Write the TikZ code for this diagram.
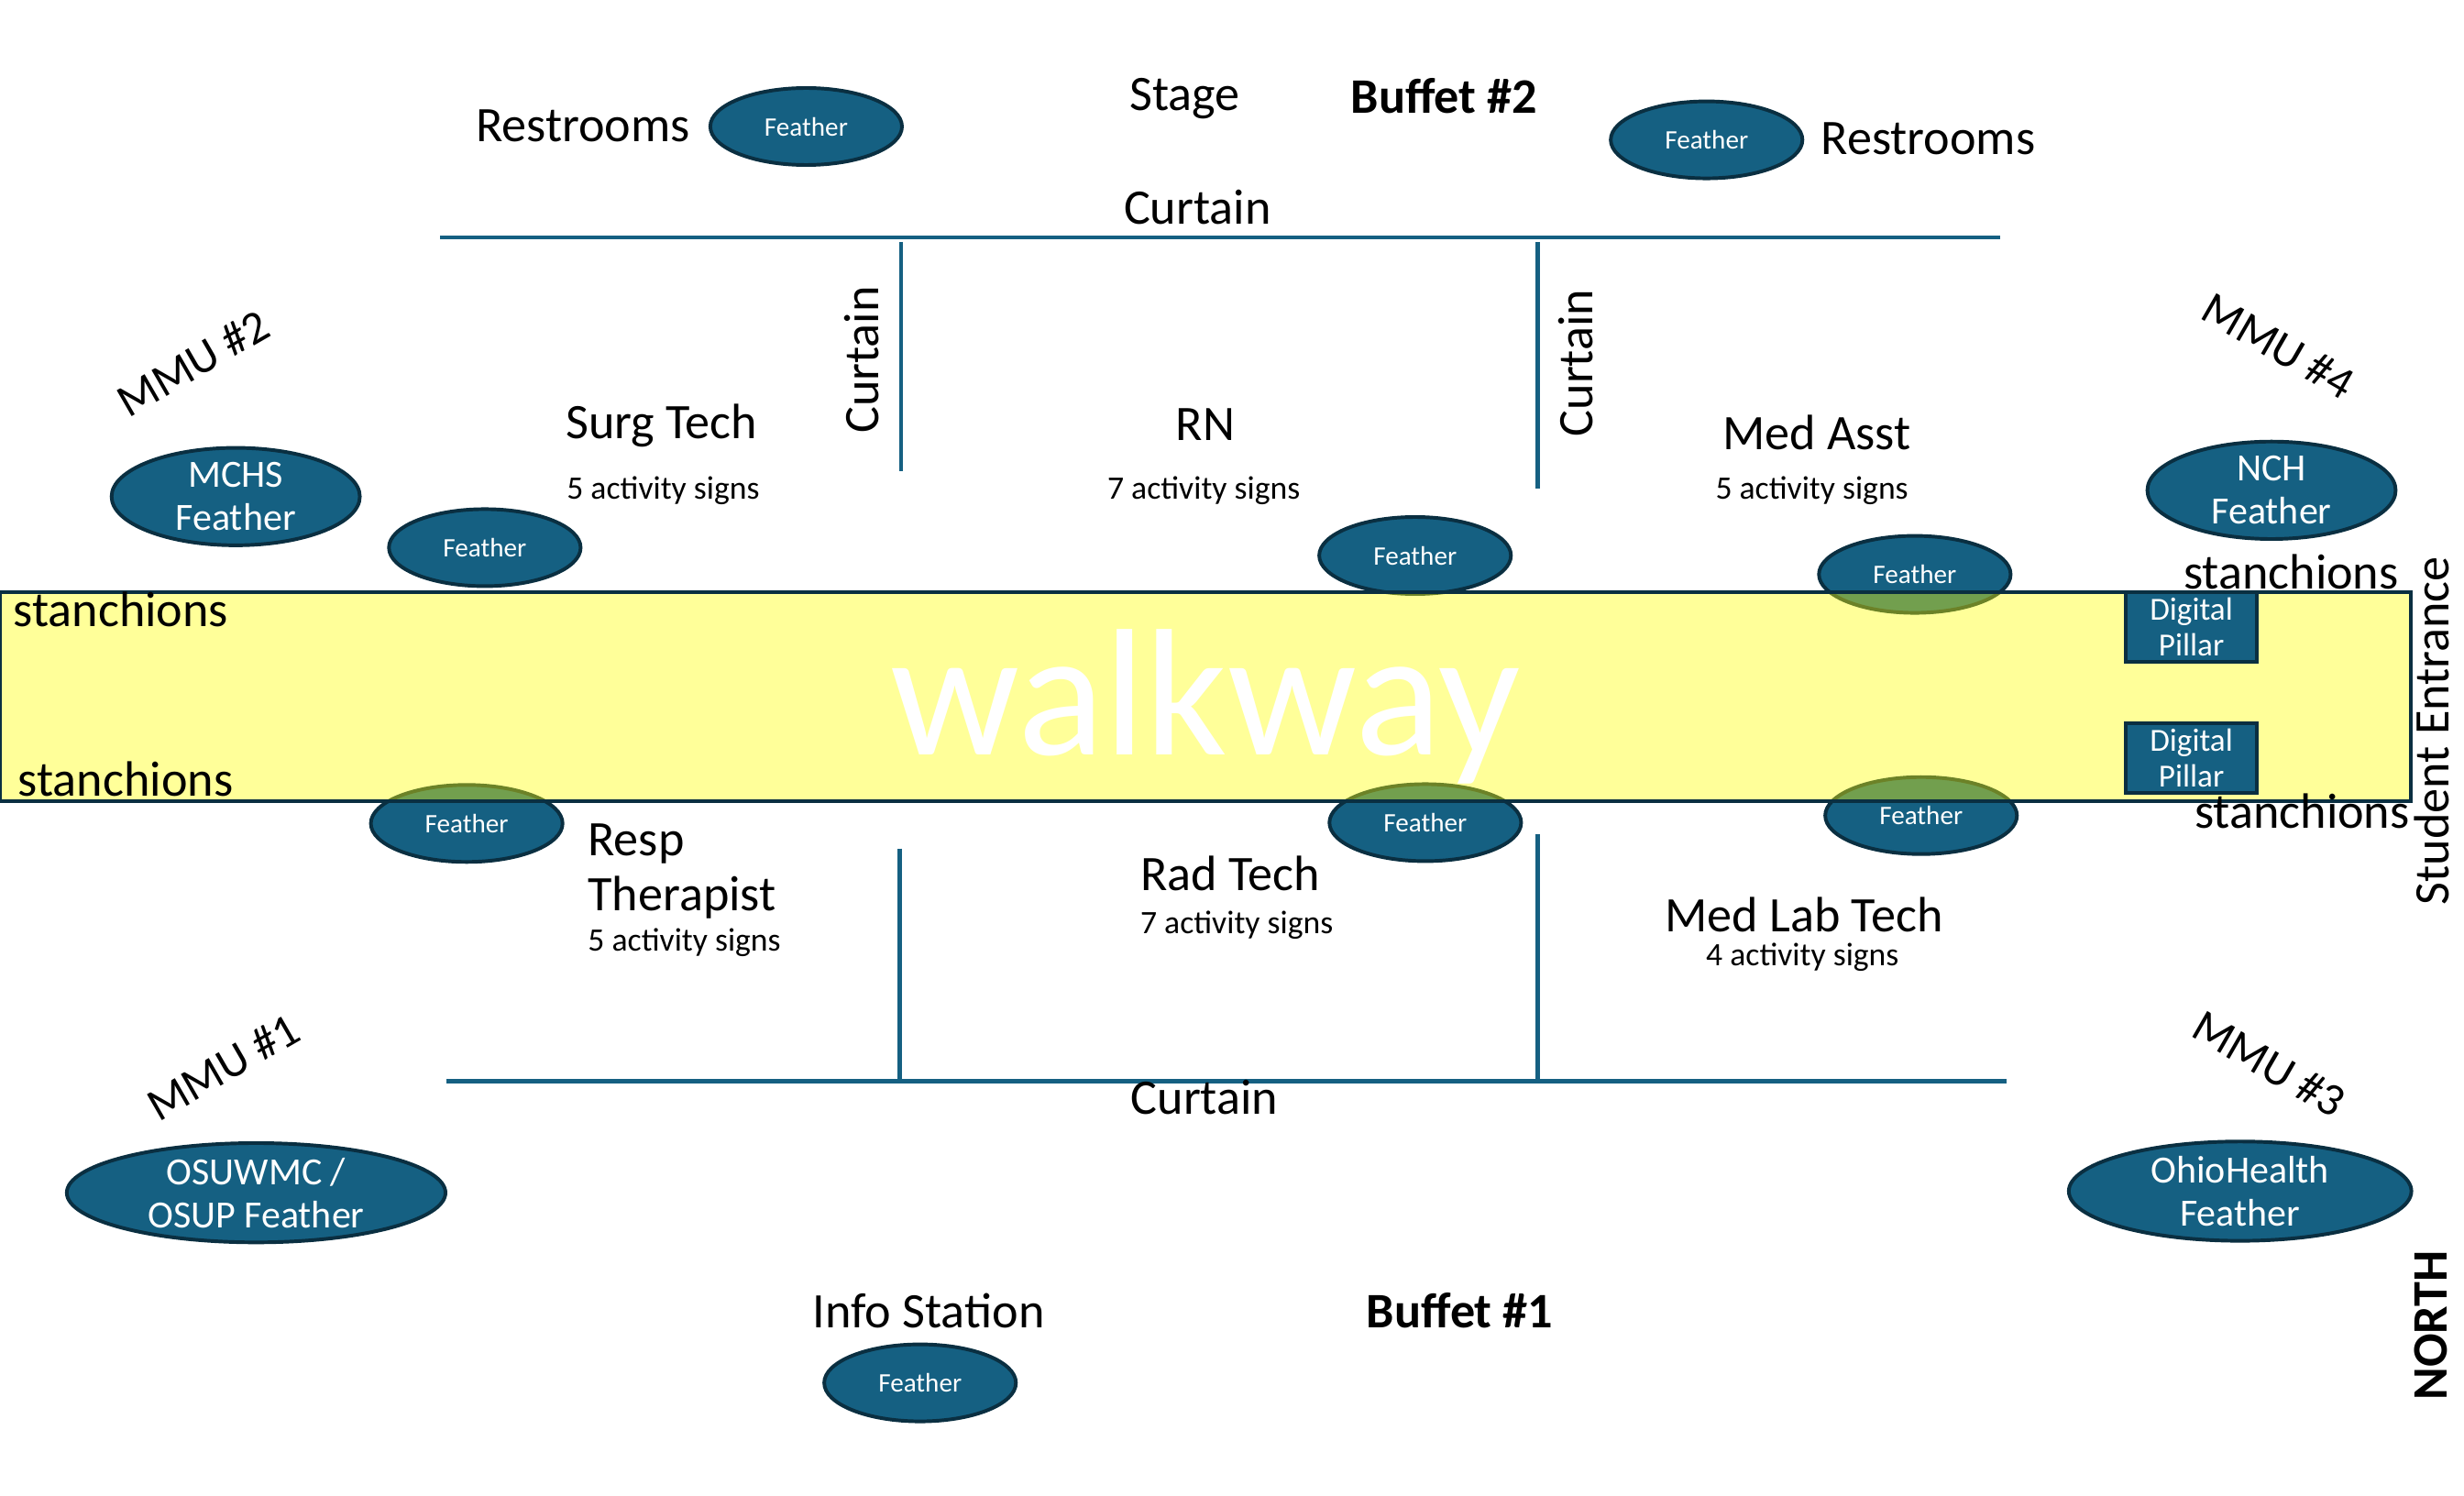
\documentclass[tikz,border=0pt]{standalone}
\usepackage{fontspec}
\usetikzlibrary{shapes.geometric}
\setmainfont{Carlito}
\newcommand{\fs}[1]{\fontsize{#1}{#1}\selectfont}
\definecolor{wallblue}{HTML}{156082}
\definecolor{edge}{HTML}{0A2F41}
\definecolor{walkyellow}{HTML}{FFFF00}
\tikzset{
  feather/.style={ellipse,draw=edge,line width=2.3pt,fill=wallblue,text=white,inner sep=0pt,align=center},
  smallf/.style={feather,minimum width=122pt,minimum height=49pt,font=\fs{17}},
  bigf/.style={feather,minimum height=62pt,font=\fs{24.5}},
  pillar/.style={rectangle,draw=edge,line width=2.3pt,fill=wallblue,text=white,align=center,minimum width=83pt,minimum height=44pt,inner sep=0pt,font=\fs{20.5}},
  lab/.style={inner sep=0pt,text=black,font=\fs{31.6}},
  mmu/.style={inner sep=0pt,text=black,font=\fs{29.6}},
  sub/.style={inner sep=0pt,text=black,font=\fs{20.8}},
  wall/.style={draw=wallblue,line width=2.6pt}
}
\begin{document}
\begin{tikzpicture}[x=1pt,y=-1pt]
\useasboundingbox (0,0) rectangle (1568,952);
% feathers under the walkway
\node[smallf] (f1) at (513,80.5) {Feather};
\node[smallf] (f2) at (1086,89) {Feather};
\node[smallf] (f3) at (308.5,348.5) {Feather};
\node[smallf] (f4) at (900.5,353.5) {Feather};
\node[smallf] (f5) at (1218.5,365.5) {Feather};
\node[smallf] (f6) at (297,524) {Feather};
\node[smallf] (f7) at (907,523.5) {Feather};
\node[smallf] (f8) at (1222.5,519) {Feather};
\node[smallf] (f9) at (585.5,880) {Feather};
\node[bigf,minimum width=158pt] (mchs) at (150,316) {MCHS\\[3pt]Feather};
\node[bigf,minimum width=158pt] (nch) at (1445.5,312) {NCH\\[3pt]Feather};
\node[bigf,minimum width=241pt] (osu) at (163,759) {OSUWMC /\\[3pt]OSUP Feather};
\node[bigf,minimum width=218pt] (ohio) at (1425.5,758) {OhioHealth\\[3pt]Feather};
% walkway
\fill[walkyellow,fill opacity=.4] (0,377) rectangle (1534,510);
\node[draw=edge,line width=2.2pt,minimum width=1534pt,minimum height=133pt,inner sep=0pt] (walk) at (767,443.5) {};
\node[inner sep=0pt,text=white,font=\fs{115}] (walktext) at (767,450) {walkway};
\node[pillar] (p1) at (1394.5,399) {Digital\\[2.5pt]Pillar};
\node[pillar] (p2) at (1394.5,482.5) {Digital\\[2.5pt]Pillar};
% walls
\draw[wall] (280,151) -- (1273,151);
\draw[wall] (573.5,154) -- (573.5,300);
\draw[wall] (978.5,154) -- (978.5,311);
\draw[wall] (284,688) -- (1277,688);
\draw[wall] (572.5,540) -- (572.5,688);
\draw[wall] (978.5,531) -- (978.5,688);
% labels
\node[lab] (r1) at (371,80) {Restrooms};
\node[lab] (stage) at (754,62.5) {Stage};
\node[lab,font=\fs{31.6}\bfseries] (b2) at (919,61) {Buffet \#2};
\node[lab] (r2) at (1227,88) {Restrooms};
\node[lab] (c1) at (762,132) {Curtain};
\node[lab,rotate=90] (c2) at (548.5,229) {Curtain};
\node[lab,rotate=90] (c3) at (1002.5,231) {Curtain};
\node[lab] (surg) at (421,271) {Surg Tech};
\node[sub] (surgs) at (422,312) {5 activity signs};
\node[lab] (rn) at (767,270) {RN};
\node[sub] (rns) at (766,312) {7 activity signs};
\node[lab] (med) at (1156,275) {Med Asst};
\node[sub] (meds) at (1153,312) {5 activity signs};
\node[mmu,rotate=30] (m2) at (123,231) {MMU \#2};
\node[mmu,rotate=-30] (m4) at (1450,220) {MMU \#4};
\node[mmu,rotate=30] (m1) at (142,679) {MMU \#1};
\node[mmu,rotate=-30] (m3) at (1444,677) {MMU \#3};
\node[lab] (s1) at (77,388) {stanchions};
\node[lab] (s2) at (80,496) {stanchions};
\node[lab] (s3) at (1458,364) {stanchions};
\node[lab] (s4) at (1465,516) {stanchions};
\node[lab,rotate=90] (se) at (1547.5,465) {Student Entrance};
\node[lab,rotate=90,font=\fs{31.6}\bfseries] (north) at (1547,843.5) {NORTH};
\node[lab,anchor=west] (resp) at (374,537) {Resp};
\node[lab,anchor=west] (ther) at (374,571) {Therapist};
\node[sub,anchor=west] (resps) at (374,600) {5 activity signs};
\node[lab] (rad) at (783,556) {Rad Tech};
\node[sub] (rads) at (787,588.5) {7 activity signs};
\node[lab] (medlab) at (1148,582) {Med Lab Tech};
\node[sub] (labs) at (1147,609) {4 activity signs};
\node[lab] (c4) at (766.5,698) {Curtain};
\node[lab] (info) at (591,834) {Info Station};
\node[lab,font=\fs{31.6}\bfseries] (b1) at (929,834) {Buffet \#1};
\end{tikzpicture}
\end{document}
